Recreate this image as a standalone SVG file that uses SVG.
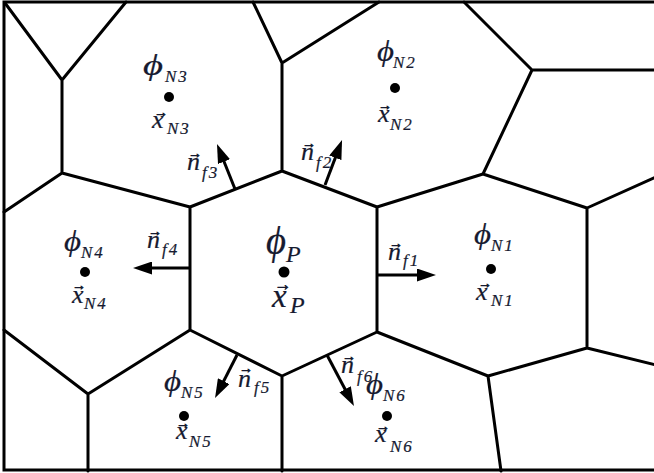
<svg xmlns="http://www.w3.org/2000/svg" width="654" height="473" viewBox="0 0 654 473">
<defs>
<style>
.m{fill:none;stroke:#000;stroke-width:3;stroke-linecap:round;stroke-linejoin:round}
.b{fill:none;stroke:#000;stroke-width:3}
.nv{fill:none;stroke:#000;stroke-width:3}
.dot{fill:#000}
.t text{font-family:"Liberation Serif","Times New Roman",serif;font-style:italic;fill:#161a30;stroke:#161a30;stroke-width:0.2}
.t .phi{font-size:30px}
.t .phiP{font-size:40px}
.t .big{font-size:26px}
.t .bigP{font-size:33px}
.t .sub{font-size:17px;letter-spacing:2px}
.t .subP{font-size:24px}
.t .vec{font-size:14px;font-style:normal;text-anchor:middle;stroke-width:0.6}
.t .vecP{font-size:17px;font-style:normal;text-anchor:middle;stroke-width:0.7}
</style>
<marker id="ah" viewBox="0 0 19 13" refX="9" refY="6.5" markerWidth="19" markerHeight="13" markerUnits="userSpaceOnUse" orient="auto">
<path d="M0,0 L19,6.5 L0,13 z" fill="#000"/>
</marker>
</defs>
<rect width="654" height="473" fill="#fff"/>
<g id="mesh">
<path class="b" d="M660,2 H4 V470 H660"/>
<path class="m" d="M5,3 L62,80 L126,2 M62,80 V173 L4,212 M62,173 L190,207 L282,171 V63 L253,2 M282,63 L379,2 M282,171 L377,207 L483,174 L532,70 L464,2 M532,70 H656 M483,174 L587,208 L656,177 M377,207 V332 M587,208 V348 M190,207 V330 M4,330 L88,394 L190,330 M88,394 V471 M190,330 L282,376 V471 M282,376 L377,332 L488,376 L501,471 M488,376 L587,348 L656,365"/>
</g>
<g class="t">
<g id="cell-P">
<circle class="dot" cx="284" cy="272" r="5.5"/>
<text class="phiP" x="266" y="254" textLength="20" lengthAdjust="spacingAndGlyphs">ϕ</text><text class="subP" x="286" y="262">P</text>
<text class="vecP" x="283" y="290">→</text>
<text class="bigP" x="272" y="307">x</text><text class="subP" x="290" y="313">P</text>
</g>
<g id="cell-N1">
<circle class="dot" cx="491" cy="269" r="5"/>
<text class="phi" x="474" y="244" textLength="17" lengthAdjust="spacingAndGlyphs">ϕ</text><text class="sub" x="491" y="251">N1</text>
<text class="vec" x="485" y="288">→</text>
<text class="big" x="476" y="300">x</text><text class="sub" x="491" y="306">N1</text>
</g>
<g id="cell-N2">
<circle class="dot" cx="395" cy="88" r="5"/>
<text class="phi" x="377" y="61" textLength="17" lengthAdjust="spacingAndGlyphs">ϕ</text><text class="sub" x="393" y="68">N2</text>
<text class="vec" x="385" y="110">→</text>
<text class="big" x="378" y="122">x</text><text class="sub" x="390" y="130">N2</text>
</g>
<g id="cell-N3">
<circle class="dot" cx="169" cy="97" r="5"/>
<text class="phi" x="143" y="75" textLength="20" lengthAdjust="spacingAndGlyphs">ϕ</text><text class="sub" x="165" y="82">N3</text>
<text class="vec" x="161" y="117">→</text>
<text class="big" x="152" y="128">x</text><text class="sub" x="167" y="134">N3</text>
</g>
<g id="cell-N4">
<circle class="dot" cx="85" cy="272" r="5"/>
<text class="phi" x="64" y="251" textLength="17" lengthAdjust="spacingAndGlyphs">ϕ</text><text class="sub" x="81" y="258">N4</text>
<text class="vec" x="79" y="290">→</text>
<text class="big" x="72" y="303">x</text><text class="sub" x="84" y="309">N4</text>
</g>
<g id="cell-N5">
<circle class="dot" cx="184" cy="416" r="5"/>
<text class="phi" x="164" y="391" textLength="17" lengthAdjust="spacingAndGlyphs">ϕ</text><text class="sub" x="181" y="398">N5</text>
<text class="vec" x="183" y="428">→</text>
<text class="big" x="176" y="439">x</text><text class="sub" x="189" y="447">N5</text>
</g>
<g id="cell-N6">
<circle class="dot" cx="387" cy="416" r="5"/>
<text class="phi" x="366" y="394" textLength="17" lengthAdjust="spacingAndGlyphs">ϕ</text><text class="sub" x="383" y="401">N6</text>
<text class="vec" x="383" y="431">→</text>
<text class="big" x="375" y="442">x</text><text class="sub" x="390" y="452">N6</text>
</g>
<g id="normal-labels">
<text class="vec" x="396" y="248">→</text>
<text class="big" x="388" y="260">n</text><text class="sub" x="403" y="266">f1</text>
<text class="vec" x="155" y="236">→</text>
<text class="big" x="147" y="248">n</text><text class="sub" x="162" y="255">f4</text>
<text class="vec" x="195" y="158">→</text>
<text class="big" x="187" y="170">n</text><text class="sub" x="202" y="178">f3</text>
<text class="vec" x="309" y="148">→</text>
<text class="big" x="301" y="160">n</text><text class="sub" x="316" y="168">f2</text>
<text class="vec" x="246" y="373">→</text>
<text class="big" x="238" y="387">n</text><text class="sub" x="254" y="393">f5</text>
<text class="vec" x="349" y="361">→</text>
<text class="big" x="341" y="373">n</text><text class="sub" x="357" y="382">f6</text>
</g>
</g>
<g id="connectors">
<line class="nv" x1="377" y1="275" x2="426" y2="275" marker-end="url(#ah)"/>
<line class="nv" x1="190" y1="268" x2="143" y2="268" marker-end="url(#ah)"/>
<line class="nv" x1="235" y1="189" x2="220.7" y2="153.3" marker-end="url(#ah)"/>
<line class="nv" x1="325" y1="185" x2="338.5" y2="149.4" marker-end="url(#ah)"/>
<line class="nv" x1="237" y1="355" x2="219.6" y2="389.1" marker-end="url(#ah)"/>
<line class="nv" x1="327" y1="355" x2="349.3" y2="397.2" marker-end="url(#ah)"/>
</g>
</svg>
